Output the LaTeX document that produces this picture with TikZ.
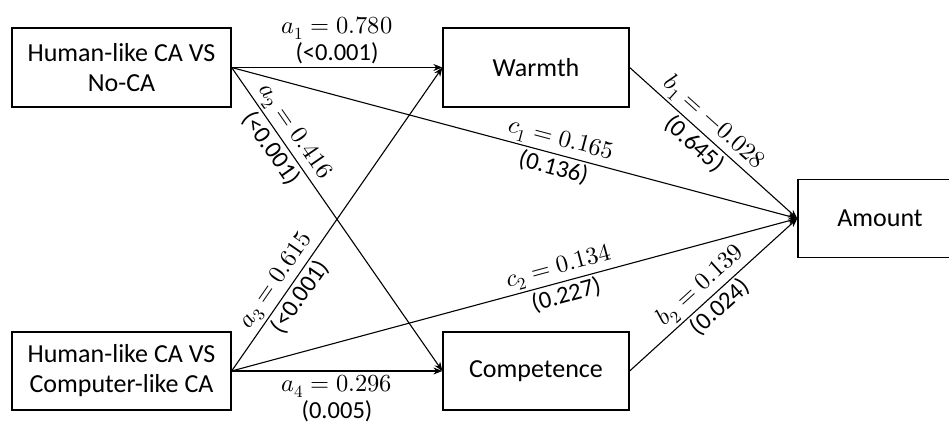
\documentclass[tikz,border=0pt]{standalone}
\usepackage{unicode-math}
\setmainfont{Carlito}
\setmathfont{Latin Modern Math}
\usetikzlibrary{arrows.meta}
\begin{document}
\begin{tikzpicture}[x=1pt,y=-1pt,
  box/.style={draw, line width=1.3pt, inner sep=0pt, align=center,
    font=\fontsize{26}{30}\selectfont},
  conn/.style={line width=1.1pt, -{Stealth[length=9pt,width=7pt]}},
  lab/.style={font=\fontsize{24.5}{27}\selectfont, align=center, inner sep=2.5pt}]
\useasboundingbox (0,0) rectangle (949,430);
\clip (0,0) rectangle (949,430);
\node[box, minimum width=219pt, minimum height=79pt] (h1) at (121.5,67.5) {Human-like CA VS\\No-CA};
\node[box, minimum width=219pt, minimum height=78pt] (h2) at (121.5,371) {Human-like CA VS\\Computer-like CA};
\node[box, minimum width=186pt, minimum height=79pt] (warm) at (536,67.5) {Warmth};
\node[box, minimum width=186pt, minimum height=78pt] (comp) at (536,371) {Competence};
\node[box, minimum width=164pt, minimum height=78pt] (amt) at (880,218.5) {Amount};

\draw[conn] (h1.east) -- (warm.west)
  node[lab, midway, above=1pt] {$a_1 = 0.780$\\(<0.001)};
\draw[conn] (h1.east) -- (comp.west)
  node[lab, pos=0.24, sloped, above] {$a_2 = 0.416$}
  node[lab, pos=0.24, sloped, below] {(<0.001)};
\draw[conn] (h1.east) -- (amt.west)
  node[lab, pos=0.575, sloped, above] {$c_1 = 0.165$}
  node[lab, pos=0.575, sloped, below] {(0.136)};
\draw[conn] (h2.east) -- (warm.west)
  node[lab, pos=0.27, sloped, above] {$a_3 = 0.615$}
  node[lab, pos=0.27, sloped, below] {(<0.001)};
\draw[conn] (h2.east) -- (comp.west)
  node[lab, midway, below=1pt] {$a_4 = 0.296$\\(0.005)};
\draw[conn] (h2.east) -- (amt.west)
  node[lab, pos=0.585, sloped, above] {$c_2 = 0.134$}
  node[lab, pos=0.585, sloped, below] {(0.227)};
\draw[conn] (warm.east) -- (amt.west)
  node[lab, pos=0.44, sloped, above] {$b_1 = -0.028$}
  node[lab, pos=0.44, sloped, below] {(0.645)};
\draw[conn] (comp.east) -- (amt.west)
  node[lab, pos=0.485, sloped, above] {$b_2 = 0.139$}
  node[lab, pos=0.485, sloped, below] {(0.024)};
\end{tikzpicture}
\end{document}
